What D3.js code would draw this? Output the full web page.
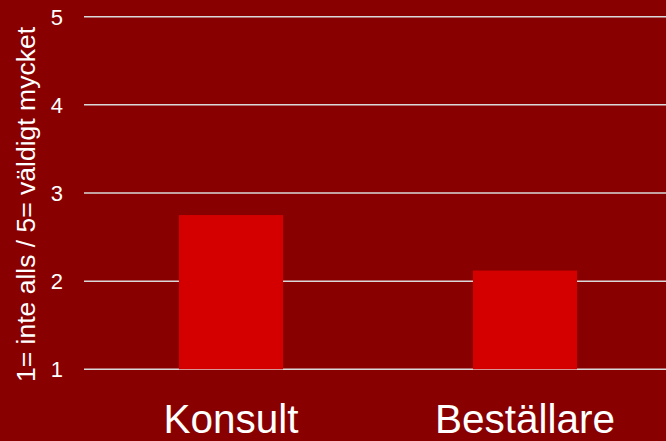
<!DOCTYPE html>
<html>
<head>
<meta charset="utf-8">
<script src="https://cdn.jsdelivr.net/npm/d3@7"></script>
<style>
  html, body { margin: 0; padding: 0; background: #880000; overflow: hidden; }
  svg { display: block; }
</style>
</head>
<body>
<div id="chart"></div>
<script>
const categories = ['Konsult', 'Beställare'];
const values = [2.75, 2.12];
const yTicks = [1, 2, 3, 4, 5];
const yTitle = '1= inte alls / 5= väldigt mycket';

const barChart = (selector) => {
  const width = 666;
  const height = 441;
  const font = '"Liberation Sans", Arial, sans-serif';

  const svg = d3.select(selector).append('svg')
    .attr('width', width)
    .attr('height', height);

  svg.append('rect')
    .attr('width', width)
    .attr('height', height)
    .attr('fill', '#880000');

  const x = d3.scaleBand()
    .domain(categories)
    .range([84, 672])
    .paddingInner(0.646)
    .paddingOuter(0.323);

  const y = d3.scaleLinear()
    .domain([1, 5])
    .range([369.3, 16.7]);

  // gridlines
  svg.selectAll('line.grid')
    .data(yTicks)
    .enter()
    .append('line')
    .attr('class', 'grid')
    .attr('x1', 84)
    .attr('x2', width)
    .attr('y1', d => y(d))
    .attr('y2', d => y(d))
    .attr('stroke', '#d9d9d9')
    .attr('stroke-width', 1.5);

  // tick labels
  svg.selectAll('text.tick')
    .data(yTicks)
    .enter()
    .append('text')
    .attr('class', 'tick')
    .attr('x', 63)
    .attr('y', d => y(d))
    .attr('dy', '0.36em')
    .attr('text-anchor', 'end')
    .attr('fill', 'white')
    .style('font-family', font)
    .style('font-size', '22px')
    .text(d => d);

  // bars
  svg.selectAll('rect.bar')
    .data(values)
    .enter()
    .append('rect')
    .attr('class', 'bar')
    .attr('x', (d, i) => x(categories[i]))
    .attr('width', x.bandwidth())
    .attr('y', d => y(d))
    .attr('height', d => y(1) - y(d))
    .attr('fill', '#d40000');

  // category labels
  svg.selectAll('text.cat')
    .data(categories)
    .enter()
    .append('text')
    .attr('class', 'cat')
    .attr('x', d => x(d) + x.bandwidth() / 2)
    .attr('y', 433)
    .attr('text-anchor', 'middle')
    .attr('fill', 'white')
    .style('font-family', font)
    .style('font-size', '40.5px')
    .text(d => d);

  // y title
  svg.append('text')
    .attr('transform', 'translate(35, 204.5) rotate(-90)')
    .attr('text-anchor', 'middle')
    .attr('fill', 'white')
    .style('font-family', font)
    .style('font-size', '26.5px')
    .text(yTitle);
};

barChart('#chart');
</script>
</body>
</html>
